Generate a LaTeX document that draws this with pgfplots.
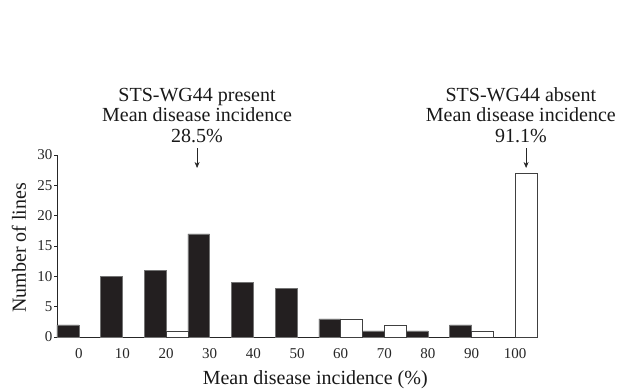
\documentclass[border=0pt]{standalone}
\usepackage{fontspec}
\setmainfont{Liberation Serif}
\usepackage{pgfplots}
\pgfplotsset{compat=1.18}
\usetikzlibrary{arrows.meta}
\definecolor{barblack}{HTML}{231F20}
\tikzset{annot/.style={anchor=base, inner sep=0pt, font=\fontsize{20}{24}\selectfont, text=black!90}}
\begin{document}
\begin{tikzpicture}
\path[use as bounding box] (0,0) rectangle (621pt,391pt);
\begin{axis}[
  at={(57pt,54pt)}, anchor=south west,
  scale only axis, width=480pt, height=182pt,
  xmin=-5, xmax=105, ymin=0, ymax=30,
  axis x line=bottom, axis y line=left,
  axis line style={-, line width=0.7pt, black!85},
  xtick={0,10,...,100}, ytick={0,5,...,30},
  xtick style={draw=none},
  ytick style={line width=0.6pt, black!85},
  tick align=outside, major tick length=3pt,
  /pgf/number format/assume math mode=true,
  tick label style={font=\fontsize{15}{18}\selectfont, text=black!85},
  xticklabel style={yshift=-5pt},
  yticklabel style={xshift=2pt},
  xlabel={Mean disease incidence (\%)},
  ylabel={Number of lines},
  label style={font=\fontsize{20}{24}\selectfont, text=black!90},
  xlabel style={at={(axis description cs:0.538,0)}, anchor=base, yshift=-47pt},
  ylabel style={at={(axis description cs:-0.0792,0.49)}, anchor=center},
  clip=false,
]
% STS-WG44 present (black), bins centred at v-2.5
\addplot[ybar, bar width=5, bar shift=0pt, fill=barblack, draw=black!55, line width=0.5pt] coordinates {
  (-2.5,2) (7.5,10) (17.5,11) (27.5,17) (37.5,9) (47.5,8) (57.5,3) (67.5,1) (77.5,1) (87.5,2)
};
% STS-WG44 absent (white), bins centred at v+2.5
\addplot[ybar, bar width=5, bar shift=0pt, fill=white, draw=black!75, line width=0.6pt] coordinates {
  (22.5,1) (62.5,3) (72.5,2) (92.5,1) (102.5,27)
};
\node[annot] at (axis cs:27.1,38.82) {STS-WG44 present};
\node[annot] at (axis cs:27.1,35.44) {Mean disease incidence};
\node[annot] at (axis cs:27.1,32.06) {28.5\%};
\node[annot] at (axis cs:101.3,38.82) {STS-WG44 absent};
\node[annot] at (axis cs:101.3,35.44) {Mean disease incidence};
\node[annot] at (axis cs:101.3,32.06) {91.1\%};
\draw[-{Stealth[length=6pt,width=5pt]}, line width=0.6pt, black!85] (axis cs:27.1,31.15) -- (axis cs:27.1,27.86);
\draw[-{Stealth[length=6pt,width=5pt]}, line width=0.6pt, black!85] (axis cs:102.5,31.15) -- (axis cs:102.5,27.86);
\end{axis}
\end{tikzpicture}
\end{document}
